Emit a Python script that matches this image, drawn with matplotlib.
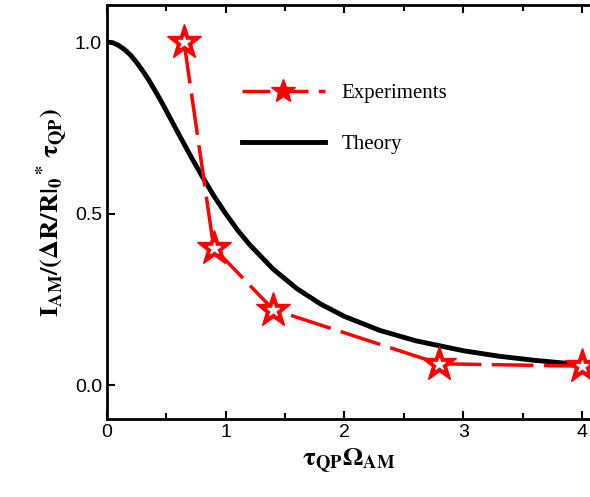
import matplotlib
matplotlib.use("Agg")
import matplotlib.pyplot as plt
from matplotlib.lines import Line2D

# experiment points
x_exp = [0.65, 0.9, 1.4, 2.8, 4.0]
y_exp = [1.0, 0.40, 0.22, 0.062, 0.055]

# theory curve
x_th = [0.0, 0.05, 0.1, 0.15, 0.2, 0.25, 0.3, 0.35, 0.4, 0.45, 0.5, 0.6, 0.7, 0.8, 0.9, 1.0,
        1.1, 1.2, 1.4, 1.6, 1.8, 2.0, 2.3, 2.6, 3.0, 3.3, 3.6, 4.0, 4.07]
y_th = [1.0, 0.998, 0.99, 0.978, 0.962, 0.941, 0.917, 0.891, 0.862, 0.832, 0.80, 0.735,
        0.671, 0.61, 0.552, 0.50, 0.452, 0.41, 0.338, 0.281, 0.236, 0.20, 0.159, 0.129,
        0.10, 0.084, 0.072, 0.059, 0.057]

plt.rcParams['mathtext.fontset'] = 'stix'
fig = plt.figure(figsize=(5.9, 4.97), dpi=100)
ax = fig.add_axes([0.181, 0.157, 0.819, 0.833])

ax.plot(x_th, y_th, color='black', lw=3.5, zorder=2)
ax.plot(x_exp, y_exp, color='red', lw=2.5, dashes=(12, 3), zorder=3)
ax.plot(x_exp, y_exp, ls='none', marker='*', ms=26, mfc='red', mec='red', zorder=4)
ax.plot(x_exp, y_exp, ls='none', marker='*', ms=9, mfc='white', mec='white', zorder=5)

ax.set_xlim(0, 4.067)
ax.set_ylim(-0.099, 1.108)
ax.set_xticks([0, 1, 2, 3, 4])
ax.set_xticks([0.5, 1.5, 2.5, 3.5], minor=True)
ax.set_yticks([0.0, 0.5, 1.0])
ax.set_yticklabels(['0.0', '0.5', '1.0'])
ax.tick_params(direction='in', length=6, width=1.5, labelsize=14, top=True)
ax.tick_params(which='minor', direction='in', length=4, width=1.5, top=True)
for lab in ax.get_xticklabels() + ax.get_yticklabels():
    lab.set_family('Liberation Sans')
for s in ax.spines.values():
    s.set_linewidth(2)
ax.spines['right'].set_visible(False)

ax.set_xlabel(r'$\mathbf{\tau_{QP}\Omega_{AM}}$', fontsize=19)
ax.set_ylabel(r'$\mathbf{I_{AM}/(\Delta R/R|_0{}^*\,\tau_{QP})}$', fontsize=19)

h_exp = Line2D([], [], color='red', lw=2.5, dashes=(8, 3), marker='*', ms=18,
               mfc='red', mec='red')
h_th = Line2D([], [], color='black', lw=3.5)
ax.legend([h_exp, h_th], ['Experiments', 'Theory'], loc='upper left',
          bbox_to_anchor=(0.24, 0.855), frameon=False, handlelength=4.0, labelspacing=1.5,
          prop={'family': 'Liberation Serif', 'size': 15})

fig.savefig('out.png', dpi=100)
